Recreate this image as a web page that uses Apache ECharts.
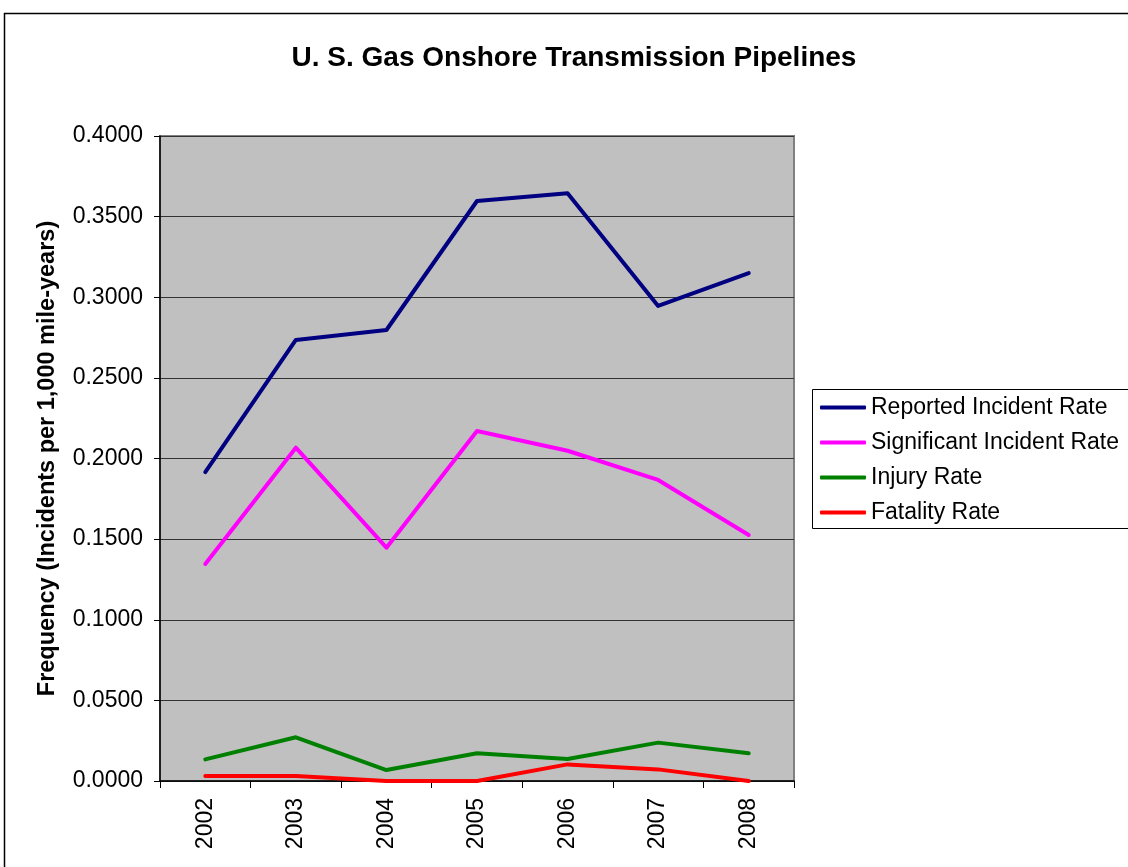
<!DOCTYPE html>
<html>
<head>
<meta charset="utf-8">
<title>U. S. Gas Onshore Transmission Pipelines</title>
<script src="https://cdn.jsdelivr.net/npm/echarts@6/dist/echarts.min.js"></script>
<style>
  html, body { margin: 0; padding: 0; background: #fff; }
  #chart { width: 1128px; height: 867px; }
</style>
</head>
<body>
<div id="chart"></div>
<script>
// data
const years = ['2002', '2003', '2004', '2005', '2006', '2007', '2008'];
const reportedRate = [0.1915, 0.2735, 0.2797, 0.3597, 0.3645, 0.2946, 0.3150];
const significantRate = [0.1346, 0.2067, 0.1447, 0.2171, 0.2048, 0.1867, 0.1526];
const injuryRate = [0.0134, 0.0271, 0.0068, 0.0172, 0.0136, 0.0238, 0.0172];
const fatalityRate = [0.0031, 0.0031, 0.0000, 0.0000, 0.0103, 0.0072, 0.0000];

const font = 'Arial, "Liberation Sans", sans-serif';

function lineSeries(name, data, color) {
  return {
    name: name,
    type: 'line',
    data: data,
    showSymbol: false,
    symbol: 'none',
    lineStyle: { color: color, width: 4, cap: 'round', join: 'round' },
    itemStyle: { color: color },
    emphasis: { disabled: true }
  };
}

const option = {
  animation: false,
  title: {
    text: 'U. S. Gas Onshore Transmission Pipelines',
    left: 569,
    textAlign: 'center',
    top: 39,
    textStyle: { fontFamily: font, fontSize: 28, fontWeight: 'bold', color: '#000' }
  },
  graphic: [
    {
      // outer chart frame
      type: 'rect',
      shape: { x: 4.5, y: 13.5, width: 1140, height: 870 },
      style: { fill: 'none', stroke: '#000', lineWidth: 1.5 },
      silent: true
    },
    {
      // legend box, runs off the right edge as in the original
      type: 'rect',
      z: -1,
      shape: { x: 812.5, y: 389.5, width: 330, height: 139 },
      style: { fill: '#fff', stroke: '#000', lineWidth: 1 },
      silent: true
    }
  ],
  legend: {
    orient: 'vertical',
    left: 812,
    top: 389,
    padding: [7, 10, 6, 8],
    itemGap: 12,
    itemWidth: 46,
    itemHeight: 4,
    icon: 'roundRect',
    borderWidth: 0,
    textStyle: { fontFamily: font, fontSize: 23, color: '#000', padding: [0, 0, 0, 0] },
    data: ['Reported Incident Rate', 'Significant Incident Rate', 'Injury Rate', 'Fatality Rate']
  },
  grid: {
    left: 160,
    top: 136,
    width: 634,
    height: 645,
    show: true,
    backgroundColor: '#C0C0C0',
    borderColor: '#808080',
    borderWidth: 2
  },
  xAxis: {
    type: 'category',
    data: years,
    boundaryGap: true,
    axisLine: { show: true, lineStyle: { color: '#000', width: 1.5 } },
    axisTick: { show: true, length: 7, inside: false, lineStyle: { color: '#000' } },
    axisLabel: {
      rotate: 90,
      margin: 17,
      fontFamily: font,
      fontSize: 23,
      color: '#000'
    },
    splitLine: { show: false }
  },
  yAxis: {
    type: 'value',
    min: 0,
    max: 0.4,
    interval: 0.05,
    name: 'Frequency (Incidents per 1,000 mile-years)',
    nameLocation: 'middle',
    nameGap: 100,
    nameTextStyle: { fontFamily: font, fontSize: 23.5, fontWeight: 'bold', color: '#000' },
    axisLine: { show: true, lineStyle: { color: '#000', width: 1.5 } },
    axisTick: { show: true, length: 6, lineStyle: { color: '#000' } },
    axisLabel: {
      margin: 17,
      fontFamily: font,
      fontSize: 23,
      color: '#000',
      formatter: function (v) { return v.toFixed(4); }
    },
    splitLine: { show: true, lineStyle: { color: '#333', width: 1 } }
  },
  series: [
    lineSeries('Reported Incident Rate', reportedRate, '#000080'),
    lineSeries('Significant Incident Rate', significantRate, '#FF00FF'),
    lineSeries('Injury Rate', injuryRate, '#008000'),
    lineSeries('Fatality Rate', fatalityRate, '#FF0000')
  ]
};

const chart = echarts.init(document.getElementById('chart'), null, { renderer: 'canvas' });
chart.setOption(option);
</script>
</body>
</html>
